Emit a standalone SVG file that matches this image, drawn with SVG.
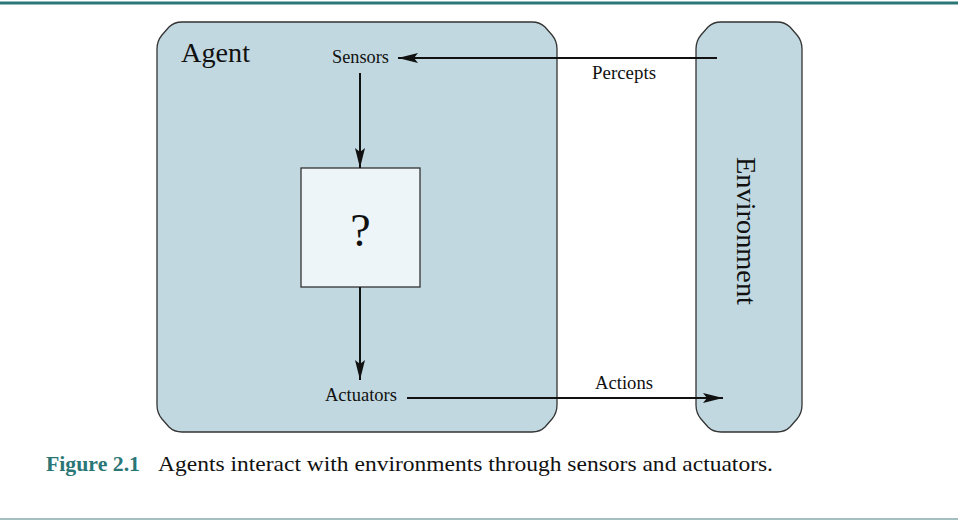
<svg xmlns="http://www.w3.org/2000/svg" width="958" height="520" viewBox="0 0 958 520">
<defs>
<marker id="ah" markerWidth="20" markerHeight="10" refX="20" refY="5" orient="auto" markerUnits="userSpaceOnUse">
<path d="M0,0 L20,5 L0,10 L4,5 Z" fill="#111"/>
</marker>
</defs>
<style>
.box{fill:#c1d8e0;stroke:#333;stroke-width:1.3}
.t{font-family:"Liberation Serif","Times New Roman",serif;fill:#111}
.s{font-size:18.5px}
.c{stroke:#111;stroke-width:2;fill:none}
.fig{fill:#2b7676;font-weight:bold}
</style>
<rect x="0" y="0" width="958" height="520" fill="#fff"/>
<line x1="0" y1="3" x2="958" y2="3" stroke="#2b7676" stroke-width="3"/>
<line x1="0" y1="519" x2="958" y2="519" stroke="#4d7f80" stroke-width="1.2"/>
<g id="agent">
<path class="box" d="M182,22 L532,22 Q540,22 545,27 L552,35 Q557,41 557,49 L557,405 Q557,413 552,419 L545,427 Q540,432 532,432 L182,432 Q174,432 169,427 L162,419 Q157,413 157,405 L157,49 Q157,41 162,35 L169,27 Q174,22 182,22 Z"/>
<text class="t" x="181" y="62" font-size="28" textLength="69" lengthAdjust="spacingAndGlyphs">Agent</text>
</g>
<g id="sensors"><text class="t s" x="332" y="63" textLength="57" lengthAdjust="spacingAndGlyphs">Sensors</text></g>
<g id="actuators"><text class="t s" x="325" y="401" textLength="72" lengthAdjust="spacingAndGlyphs">Actuators</text></g>
<g id="question">
<rect x="301" y="168" width="119" height="119" fill="#eef5f8" stroke="#333" stroke-width="1.3"/>
<text class="t" x="360.5" y="246" font-size="46" text-anchor="middle">?</text>
</g>
<g id="environment">
<path class="box" d="M721,22 L777,22 Q785,22 790,27 L797,35 Q802,41 802,49 L802,405 Q802,413 797,419 L790,427 Q785,432 777,432 L721,432 Q713,432 708,427 L701,419 Q696,413 696,405 L696,49 Q696,41 701,35 L708,27 Q713,22 721,22 Z"/>
<text class="t" font-size="28" transform="translate(737,157) rotate(90)" textLength="148" lengthAdjust="spacingAndGlyphs">Environment</text>
</g>
<g id="connectors">
<line class="c" x1="717" y1="58" x2="398" y2="58" marker-end="url(#ah)"/>
<line class="c" x1="360" y1="73" x2="360" y2="168" marker-end="url(#ah)"/>
<line class="c" x1="360" y1="287" x2="360" y2="380" marker-end="url(#ah)"/>
<line class="c" x1="407" y1="398" x2="723" y2="398" marker-end="url(#ah)"/>
<text class="t s" x="592" y="79" textLength="64" lengthAdjust="spacingAndGlyphs">Percepts</text>
<text class="t s" x="595" y="389" textLength="58" lengthAdjust="spacingAndGlyphs">Actions</text>
</g>
<text class="t fig" x="46" y="471" font-size="22" textLength="94" lengthAdjust="spacingAndGlyphs">Figure 2.1</text>
<text class="t" x="158" y="471" font-size="22" textLength="615" lengthAdjust="spacingAndGlyphs">Agents interact with environments through sensors and actuators.</text>
</svg>
